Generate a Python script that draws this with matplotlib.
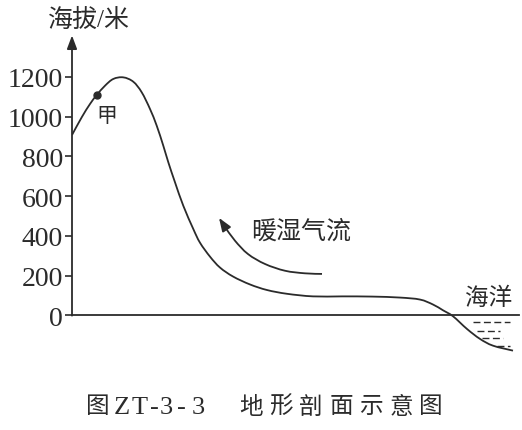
import matplotlib.pyplot as plt
import numpy as np
from matplotlib.path import Path
from matplotlib.patches import PathPatch

plt.rcParams['font.family'] = ['Liberation Serif', 'Noto Sans CJK SC']

ink = '#2b2b2b'

# terrain profile: horizontal distance (arbitrary units) and elevation (m)
dist = [0, 9.7, 18, 24.7, 33, 41.3, 51.3, 61.3, 69.7, 78, 84.7, 91.3, 96.3,
        103, 111.3, 121.3, 128, 138, 148, 161, 178, 195, 215, 241, 270, 300,
        328, 348, 361, 371, 381, 395, 408, 421, 441]
elev = [907, 996, 1063, 1108, 1155, 1189, 1197, 1175, 1122, 1038, 954, 853,
        770, 669, 551, 434, 365, 295, 240, 195, 155, 127, 108, 95, 95, 94,
        89, 79, 54, 25, -5, -69, -119, -153, -178]

# point 甲
jia_x, jia_y = 24.7, 1108

# warm moist airflow arrow path
flow_x = [250, 233, 213, 193, 176, 163, 153, 147]
flow_y = [208, 211, 224, 258, 308, 375, 444, 490]

# sea dashes: elevation, start, end
sea_rows = [-35, -77, -116, -153]
sea_start = [401, 405, 410, 425]
sea_end = [438, 428, 431, 438]

yticks = [0, 200, 400, 600, 800, 1000, 1200]

# caption glyphs and their centre positions (pixels)
cap_chars = ['图', 'Z', 'T', '-', '3', '-', '3',
             '地', '形', '剖', '面', '示', '意', '图']
cap_px = [97.5, 121.5, 140, 154, 166.5, 181, 198,
          251, 281, 311, 341, 371, 401, 431]


def smooth_path(xs, ys):
    # Catmull-Rom through the points, drawn as cubic Bezier segments
    p = np.column_stack([xs, ys]).astype(float)
    p = np.vstack([p[0], p, p[-1]])
    verts = [p[1]]
    codes = [Path.MOVETO]
    for i in range(1, len(p) - 2):
        c1 = p[i] + (p[i + 1] - p[i - 1]) / 6
        c2 = p[i + 1] - (p[i + 2] - p[i]) / 6
        verts += [c1, c2, p[i + 1]]
        codes += [Path.CURVE4] * 3
    return Path(verts, codes)


fig = plt.figure(figsize=(5.22, 4.31), dpi=100)
ax = fig.add_axes([72 / 522, 0.174, 450 / 522, 0.747])
ax.set_xlim(0, 450)
ax.set_ylim(-200, 1420)

for s in ax.spines.values():
    s.set_visible(False)

# axes lines
ax.plot([0, 447], [0, 0], color=ink, lw=1.3, clip_on=False)
ax.annotate('', xy=(0, 1408), xytext=(0, -2),
            arrowprops=dict(arrowstyle='-|>,head_length=0.8,head_width=0.3',
                            color=ink, lw=1.3, shrinkA=0, shrinkB=0))

ax.set_xticks([])
ax.set_yticks(yticks)
ax.set_yticklabels([str(t) for t in yticks])
ax.tick_params(axis='y', length=5, width=1.2, color=ink, pad=1.5,
               labelsize=20, labelcolor=ink)

# terrain curve
ax.add_patch(PathPatch(smooth_path(dist, elev), fill=False, ec=ink, lw=1.3))
ax.plot(jia_x, jia_y, 'o', color=ink, ms=5)

# airflow arrow
ax.add_patch(PathPatch(smooth_path(flow_x[:-1], flow_y[:-1]), fill=False,
                       ec=ink, lw=1.3))
ax.annotate('', xy=(flow_x[-1], flow_y[-1]), xytext=(flow_x[-2], flow_y[-2]),
            arrowprops=dict(arrowstyle='-|>,head_length=0.8,head_width=0.3',
                            color=ink, lw=1.3, shrinkA=0, shrinkB=0))

# sea dashes
for r, a, b in zip(sea_rows, sea_start, sea_end):
    ax.plot([a, b], [r, r], color=ink, lw=1.0, linestyle=(0, (5, 2.5)))

ax.text(35, 1002, '甲', fontsize=15, color=ink, ha='center', va='center')
ax.text(229, 424, '暖湿气流', fontsize=18, color=ink, ha='center', va='center')
ax.text(417, 87, '海洋', fontsize=17, color=ink, ha='center', va='center')

fig.text(89 / 522, 1 - 20 / 431, '海拔/米', fontsize=18, color=ink,
         ha='center', va='center')
for ch, px in zip(cap_chars, cap_px):
    fig.text(px / 522, 1 - 408 / 431, ch, fontsize=17 if ord(ch) > 255 else 19,
             color=ink, ha='center', va='center')

fig.savefig('out.png', dpi=100)
